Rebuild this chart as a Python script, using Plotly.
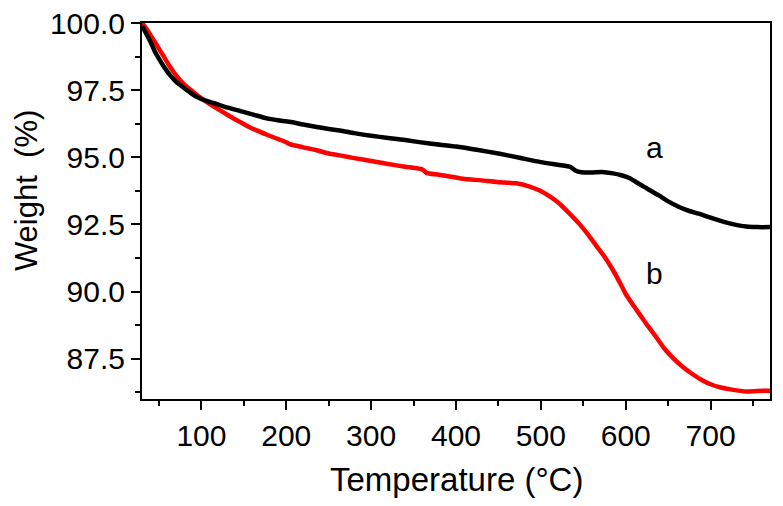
import plotly.graph_objects as go

temp_a = [30, 35, 40, 45, 51, 57, 63, 70, 78, 86, 95, 106, 118, 131, 145, 160, 177, 190, 204, 220,
          236, 250, 263, 280, 300, 320, 340, 369, 400, 428, 450, 475, 500, 520, 535, 540, 548, 560,
          572, 585, 595, 605, 612, 625, 639, 650, 663, 675, 686, 700, 710, 725, 742, 755, 770]
weight_a = [99.9, 99.6, 99.3, 98.95, 98.62, 98.32, 98.06, 97.82, 97.62, 97.43, 97.24, 97.1, 96.98,
            96.85, 96.73, 96.6, 96.45, 96.38, 96.32, 96.22, 96.13, 96.05, 96.0, 95.9, 95.8, 95.72,
            95.64, 95.51, 95.4, 95.26, 95.14, 94.98, 94.82, 94.72, 94.64, 94.52, 94.44, 94.43, 94.45,
            94.4, 94.33, 94.22, 94.08, 93.84, 93.58, 93.36, 93.15, 93.0, 92.9, 92.75, 92.65,
            92.52, 92.42, 92.4, 92.4]

temp_b = [30, 35, 40, 45, 51, 57, 63, 69, 75, 82, 90, 98, 106, 115, 125, 135, 145, 155, 165, 178,
          192, 200, 204, 220, 236, 250, 263, 280, 300, 320, 340, 361, 365, 380, 408, 430, 448, 471,
          486, 498, 510, 522, 533, 545, 555, 565, 575, 584, 592, 600, 608, 616, 626, 636, 645, 655,
          667, 678, 690, 700, 712, 725, 742, 755, 770]
weight_b = [100.0, 99.8, 99.55, 99.3, 98.99, 98.68, 98.37, 98.1, 97.87, 97.65, 97.44, 97.24, 97.06,
            96.88, 96.69, 96.5, 96.32, 96.15, 96.0, 95.83, 95.66, 95.56, 95.49, 95.37, 95.26, 95.14,
            95.07, 94.97, 94.86, 94.75, 94.65, 94.54, 94.42, 94.35, 94.2, 94.14, 94.08, 94.03, 93.92,
            93.77, 93.55, 93.27, 92.93, 92.53, 92.15, 91.72, 91.3, 90.85, 90.4, 89.91, 89.53, 89.17,
            88.72, 88.3, 87.9, 87.55, 87.2, 86.94, 86.7, 86.55, 86.43, 86.35, 86.28, 86.3, 86.31]

x_ticks = [100, 200, 300, 400, 500, 600, 700]
y_ticks = [87.5, 90.0, 92.5, 95.0, 97.5, 100.0]
y_tick_text = ["87.5", "90.0", "92.5", "95.0", "97.5", "100.0"]

FONT = "Liberation Sans, Arial, sans-serif"

fig = go.Figure()
fig.add_trace(go.Scatter(x=temp_b, y=weight_b, mode="lines", name="b",
                         line=dict(color="#ff0000", width=4.5, shape="spline", smoothing=0.6)))
fig.add_trace(go.Scatter(x=temp_a, y=weight_a, mode="lines", name="a",
                         line=dict(color="#000000", width=4.5, shape="spline", smoothing=0.6)))

axis_common = dict(showgrid=False, zeroline=False, showline=True, linecolor="black", linewidth=2,
                   mirror=True, ticks="outside", ticklen=9, tickwidth=2, tickcolor="black",
                   ticklabeloverflow="allow", automargin=False,
                   tickfont=dict(family=FONT, size=30, color="black"))

fig.update_xaxes(range=[30, 770], tickvals=x_ticks,
                 minor=dict(ticks="outside", ticklen=5, tickwidth=2, tickcolor="black",
                            tickvals=[50, 150, 250, 350, 450, 550, 650, 750]),
                 **axis_common)
fig.update_yaxes(range=[86, 100], tickvals=y_ticks, ticktext=y_tick_text,
                 minor=dict(ticks="outside", ticklen=5, tickwidth=2, tickcolor="black",
                            tickvals=[86.25, 88.75, 91.25, 93.75, 96.25, 98.75]),
                 **axis_common)

fig.add_annotation(x=633.5, y=95.37, text="a", showarrow=False,
                   font=dict(family=FONT, size=30, color="black"))
fig.add_annotation(x=633.5, y=90.67, text="b", showarrow=False,
                   font=dict(family=FONT, size=30, color="black"))
fig.add_annotation(xref="paper", yref="paper", x=0.5, y=-0.213, text="Temperature (°C)",
                   showarrow=False, xanchor="center", yanchor="middle",
                   font=dict(family=FONT, size=33, color="black"))
fig.add_annotation(xref="paper", yref="paper", x=-0.1847, y=0.553, text="Weight\u00a0 (%)",
                   showarrow=False, xanchor="center", yanchor="middle", textangle=-90,
                   font=dict(family=FONT, size=31, color="black"))

fig.update_layout(width=783, height=506, margin=dict(l=134, r=21, t=15, b=115, autoexpand=False),
                  paper_bgcolor="white", plot_bgcolor="white", showlegend=False)

fig.write_html("out.html")
